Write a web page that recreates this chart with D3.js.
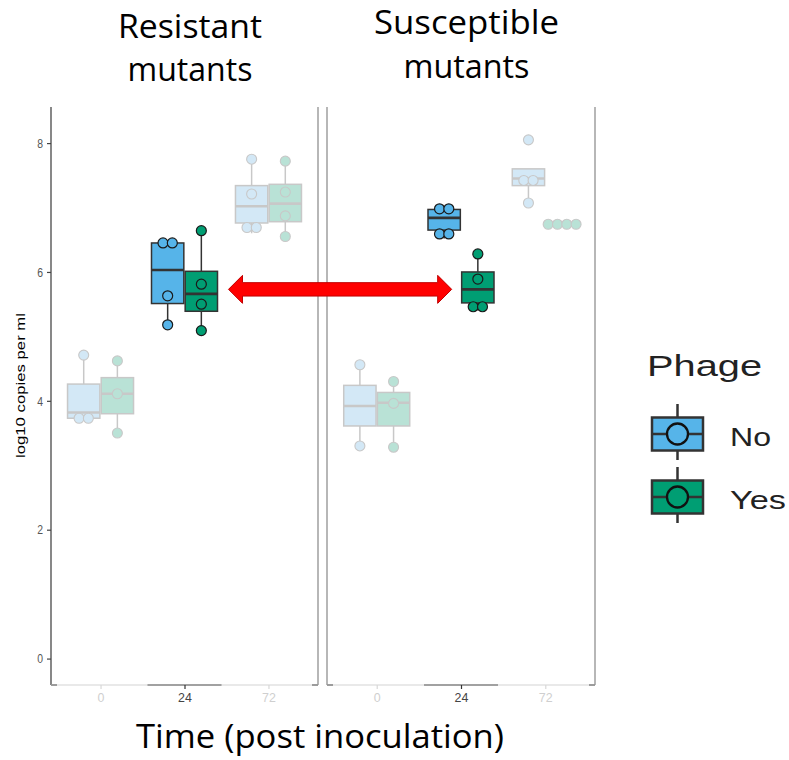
<!DOCTYPE html>
<html><head><meta charset="utf-8">
<script src="https://cdn.jsdelivr.net/npm/d3@7"></script>
<style>body{margin:0;background:#fff}</style>
</head><body>
<svg id="chart" width="789" height="760"></svg>
<script>
// ---------- data ----------
const panelNames = [["Resistant", "mutants"], ["Susceptible", "mutants"]];
const timeCategories = ["0", "24", "72"];
const phageLevels = ["No", "Yes"];
const yTickValues = [0, 2, 4, 6, 8];
const highlightedTime = "24";
// box stats [min, q1, median, q3, max] for times 0, 24, 72
const resistantNoBox = [[3.73, 3.73, 3.82, 4.26, 4.71], [5.18, 5.51, 6.03, 6.45, 6.45], [6.60, 6.76, 7.02, 7.34, 7.75]];
const resistantYesBox = [[3.50, 3.80, 4.11, 4.36, 4.62], [5.09, 5.39, 5.66, 6.01, 6.64], [6.55, 6.78, 7.06, 7.36, 7.72]];
const susceptibleNoBox = [[3.30, 3.61, 3.92, 4.24, 4.56], [6.52, 6.65, 6.84, 6.97, 6.98], [7.07, 7.34, 7.45, 7.60, 7.60]];
const susceptibleYesBox = [[3.28, 3.61, 3.97, 4.13, 4.30], [5.40, 5.52, 5.73, 6.00, 6.28], [6.74, 6.74, 6.74, 6.74, 6.74]];
// replicate points
const resistantNoPoints = [[3.73, 3.73, 4.71], [5.18, 5.63, 6.45, 6.45], [6.69, 6.69, 7.21, 7.75]];
const resistantYesPoints = [[3.50, 4.11, 4.62], [5.09, 5.50, 5.81, 6.64], [6.55, 6.87, 7.24, 7.72]];
const susceptibleNoPoints = [[3.30, 4.56], [6.59, 6.59, 6.98, 6.98], [7.07, 7.42, 7.42, 8.05]];
const susceptibleYesPoints = [[3.28, 3.96, 4.30], [5.46, 5.46, 5.89, 6.28], [6.74, 6.74, 6.74, 6.74]];
const arrowLevel = 5.73;

// ---------- styles ----------
const fullFill = { No: "#56B4E9", Yes: "#009E73" };
const fadedFill = { No: "#D3E8F6", Yes: "#B9E2D6" };
const fadedStroke = "#C8C8C8";
const darkStroke = "#333333";
const titleFont = "'Open Sans', Lato, sans-serif";

const boxData = [[resistantNoBox, resistantYesBox], [susceptibleNoBox, susceptibleYesBox]];
const pointData = [[resistantNoPoints, resistantYesPoints], [susceptibleNoPoints, susceptibleYesPoints]];

const svg = d3.select("#chart");
const plotTop = 107, plotBottom = 685;
const y = d3.scaleLinear().domain([-0.41, 8.56]).range([plotBottom, plotTop]);
const panelRanges = [[51, 318], [327, 595]];
const inner = d3.scaleBand().domain(phageLevels).range([-33, 33]).paddingInner(0.04);
const bw = inner.bandwidth();

function squeeze(sel, f) {
  sel.each(function () {
    const L = this.getComputedTextLength();
    d3.select(this).attr("textLength", L * f).attr("lengthAdjust", "spacingAndGlyphs");
  });
}
function fitWidth(sel, w) {
  sel.attr("textLength", w).attr("lengthAdjust", "spacingAndGlyphs");
}

const xScales = panelRanges.map(r => d3.scalePoint().domain(timeCategories).range(r).padding(0.59));

// ---------- panels ----------
const titleLayout = [
  { cx: 190, y: [38, 81], w: [144, 125] },
  { cx: 466.5, y: [34, 78], w: [185, 126] }
];

panelRanges.forEach((r, pi) => {
  const x = xScales[pi];
  const g = svg.append("g");

  // borders
  g.append("line").attr("x1", r[0]).attr("x2", r[0]).attr("y1", plotTop).attr("y2", plotBottom)
    .attr("stroke", pi === 0 ? "#555" : "#999").attr("stroke-width", 1.4);
  g.append("line").attr("x1", r[1]).attr("x2", r[1]).attr("y1", plotTop).attr("y2", plotBottom)
    .attr("stroke", "#999").attr("stroke-width", 1.4);

  // bottom axis line
  g.append("line").attr("x1", r[0]).attr("x2", r[1]).attr("y1", plotBottom).attr("y2", plotBottom)
    .attr("stroke", "#e2e2e2").attr("stroke-width", 1.6);
  g.append("line").attr("x1", r[0]).attr("x2", r[0] + 6).attr("y1", plotBottom).attr("y2", plotBottom)
    .attr("stroke", "#888").attr("stroke-width", 1.6);
  g.append("line").attr("x1", r[1] - 6).attr("x2", r[1]).attr("y1", plotBottom).attr("y2", plotBottom)
    .attr("stroke", "#888").attr("stroke-width", 1.6);
  g.append("line").attr("x1", x(highlightedTime) - 37).attr("x2", x(highlightedTime) + 37)
    .attr("y1", plotBottom).attr("y2", plotBottom).attr("stroke", "#888").attr("stroke-width", 1.6);

  const xAxis = d3.axisBottom(x).tickSize(4).tickPadding(3);
  const ax = g.append("g").attr("transform", `translate(0,${plotBottom})`).call(xAxis);
  ax.select(".domain").remove();
  ax.selectAll(".tick line").attr("stroke", d => d === highlightedTime ? "#333" : "#d8d8d8").attr("stroke-width", 1.2);
  ax.selectAll(".tick text")
    .attr("font-family", "Liberation Sans, Arial, sans-serif").attr("font-size", 13.5)
    .attr("fill", d => d === highlightedTime ? "#444" : "#cfcfcf")
    .call(squeeze, 0.92);

  // boxes
  phageLevels.forEach((ph, phi) => {
    timeCategories.forEach((t, ti) => {
      const s = boxData[pi][phi][ti];
      const pts = pointData[pi][phi][ti];
      const hl = t === highlightedTime;
      const cx = x(t) + inner(ph) + bw / 2;
      const stroke = hl ? darkStroke : fadedStroke;
      const fill = hl ? fullFill[ph] : fadedFill[ph];
      const bg = g.append("g");
      bg.append("line").attr("x1", cx).attr("x2", cx).attr("y1", y(s[4])).attr("y2", y(s[3]))
        .attr("stroke", stroke).attr("stroke-width", 1.5);
      bg.append("line").attr("x1", cx).attr("x2", cx).attr("y1", y(s[1])).attr("y2", y(s[0]))
        .attr("stroke", stroke).attr("stroke-width", 1.5);
      bg.append("rect").attr("x", cx - bw / 2).attr("width", bw)
        .attr("y", y(s[3])).attr("height", Math.max(0.5, y(s[1]) - y(s[3])))
        .attr("fill", fill).attr("stroke", stroke).attr("stroke-width", 1.5);
      bg.append("line").attr("x1", cx - bw / 2).attr("x2", cx + bw / 2).attr("y1", y(s[2])).attr("y2", y(s[2]))
        .attr("stroke", stroke).attr("stroke-width", 2.6);

      // points with side-by-side dodge of identical values
      const counts = {};
      pts.forEach(v => { counts[v] = (counts[v] || 0) + 1; });
      const seen = {};
      pts.forEach(v => {
        const k = counts[v];
        const i = seen[v] = (seen[v] === undefined ? 0 : seen[v] + 1);
        const off = (i - (k - 1) / 2) * 9.3;
        bg.append("circle").attr("cx", cx + off).attr("cy", y(v)).attr("r", 5)
          .attr("fill", fill).attr("stroke", hl ? "#1a1a1a" : fadedStroke).attr("stroke-width", hl ? 1.2 : 1.1);
      });
    });
  });

  // titles
  const L = titleLayout[pi];
  panelNames[pi].forEach((line, li) => {
    g.append("text").attr("x", L.cx).attr("y", L.y[li]).attr("text-anchor", "middle")
      .attr("font-family", titleFont).attr("font-size", 32).attr("fill", "#000")
      .text(line).call(fitWidth, L.w[li]);
  });
});

// y axis (left panel only)
const yAx = svg.append("g").attr("transform", `translate(${panelRanges[0][0]},0)`)
  .call(d3.axisLeft(y).tickValues(yTickValues).tickSize(4).tickPadding(4));
yAx.select(".domain").remove();
yAx.selectAll(".tick line").attr("stroke", "#444").attr("stroke-width", 1.2);
yAx.selectAll(".tick text").attr("font-family", "Liberation Sans, Arial, sans-serif")
  .attr("font-size", 13).attr("fill", "#555").call(squeeze, 0.8);

svg.append("text").attr("transform", `translate(25,${(313 + 458) / 2}) rotate(-90)`)
  .attr("text-anchor", "middle").attr("font-family", "Liberation Sans, Arial, sans-serif")
  .attr("font-size", 13).attr("fill", "#000").attr("textLength", 145).attr("lengthAdjust", "spacingAndGlyphs")
  .text("log10 copies per ml");

// x title
svg.append("text").attr("x", 320).attr("y", 748).attr("text-anchor", "middle")
  .attr("font-family", titleFont).attr("font-size", 32).attr("fill", "#000")
  .text("Time (post inoculation)").call(fitWidth, 368);

// arrow
const xa1 = xScales[0](highlightedTime) + inner("Yes") + bw + 11;
const xa2 = xScales[1](highlightedTime) + inner("Yes") - 10;
const ya = y(arrowLevel);
const headLen = 14, headHalf = 14, shaftHalf = 6.7;
const arrowPts = [[xa1, ya], [xa1 + headLen, ya - headHalf], [xa1 + headLen, ya - shaftHalf], [xa2 - headLen, ya - shaftHalf], [xa2 - headLen, ya - headHalf], [xa2, ya],
  [xa2 - headLen, ya + headHalf], [xa2 - headLen, ya + shaftHalf], [xa1 + headLen, ya + shaftHalf], [xa1 + headLen, ya + headHalf]];
svg.append("path").attr("d", d3.line()(arrowPts) + "Z").attr("fill", "#FF0000")
  .attr("stroke", "#C00000").attr("stroke-width", 1);

// legend
const lg = svg.append("g").attr("font-family", "Liberation Sans, Arial, sans-serif").attr("fill", "#222");
lg.append("text").attr("x", 647).attr("y", 376).attr("font-size", 30).attr("textLength", 115)
  .attr("lengthAdjust", "spacingAndGlyphs").text("Phage");
const legendY = d3.scalePoint().domain(phageLevels).range([434, 497]);
phageLevels.forEach(ph => {
  const cy = legendY(ph), cx = 677.5;
  lg.append("line").attr("x1", cx).attr("x2", cx).attr("y1", cy - 30).attr("y2", cy + 26)
    .attr("stroke", "#333").attr("stroke-width", 2.5);
  lg.append("rect").attr("x", cx - 25.5).attr("y", cy - 16.5).attr("width", 51).attr("height", 33)
    .attr("fill", fullFill[ph]).attr("stroke", "#333").attr("stroke-width", 2.5);
  lg.append("line").attr("x1", cx - 25.5).attr("x2", cx + 25.5).attr("y1", cy).attr("y2", cy)
    .attr("stroke", "#333").attr("stroke-width", 2.5);
  lg.append("circle").attr("cx", cx).attr("cy", cy).attr("r", 10.5)
    .attr("fill", fullFill[ph]).attr("stroke", "#111").attr("stroke-width", 2.3);
  lg.append("text").attr("x", 730).attr("y", cy + 12).attr("font-size", 26.5)
    .attr("textLength", ph === "No" ? 41 : 56).attr("lengthAdjust", "spacingAndGlyphs").text(ph);
});
</script>
</body></html>
